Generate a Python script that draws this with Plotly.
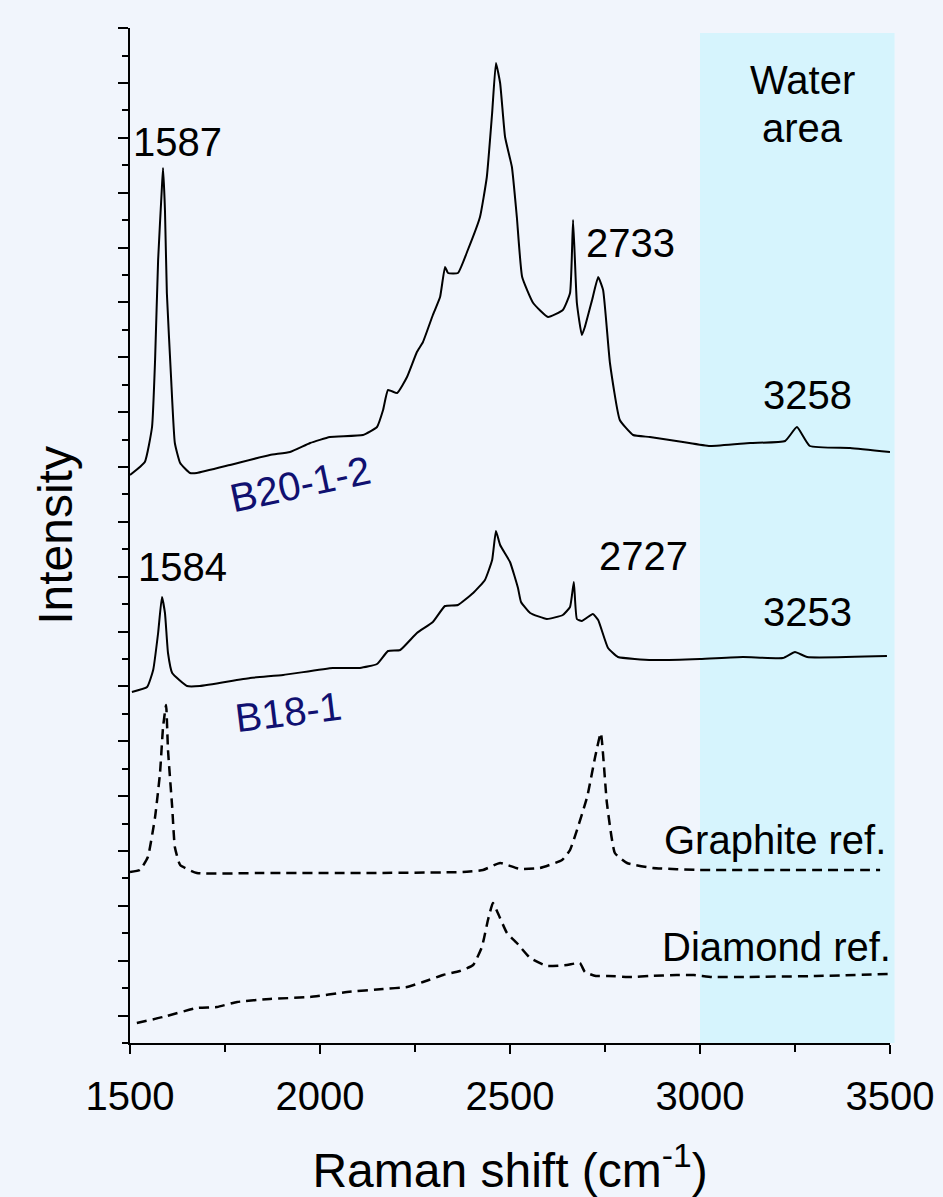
import plotly.graph_objects as go

# ---------------- data (Raman shift in cm-1, intensity in arbitrary offset units) -------------
shift_b20 = [1500, 1539, 1558, 1566, 1574, 1584, 1587, 1592, 1597, 1608, 1618, 1632, 1658, 1676,
             1763, 1868, 1921, 1974, 2026, 2113, 2150, 2166, 2179, 2203, 2229, 2255, 2271, 2297,
             2316, 2329, 2337, 2363, 2389, 2421, 2439, 2453, 2463, 2474, 2487, 2505, 2518, 2532,
             2561, 2600, 2639, 2658, 2666, 2676, 2689, 2697, 2716, 2732, 2745, 2763, 2789, 2824,
             2868, 2955, 3026, 3132, 3224, 3255, 3289, 3395, 3500]
int_b20 = [568, 581, 616, 683, 783, 856, 875, 833, 750, 666, 600, 580, 570, 570,
           578, 588, 591, 600, 606, 608, 616, 633, 653, 650, 666, 691, 701, 728,
           746, 776, 770, 770, 793, 826, 866, 930, 980, 960, 906, 876, 826, 766,
           740, 726, 733, 750, 823, 740, 708, 716, 743, 766, 753, 680, 623, 608,
           606, 601, 597, 600, 602, 616, 597, 595, 591]

shift_b18 = [1505, 1545, 1561, 1574, 1584, 1592, 1600, 1611, 1650, 1684, 1816, 1903, 2034, 2105,
             2150, 2179, 2211, 2255, 2297, 2329, 2363, 2403, 2434, 2453, 2463, 2474, 2500, 2521,
             2529, 2553, 2597, 2639, 2658, 2668, 2676, 2689, 2718, 2732, 2758, 2784, 2876, 3000,
             3113, 3218, 3250, 3282, 3492]
int_b18 = [351, 356, 373, 410, 446, 430, 390, 370, 357, 357, 365, 368, 375, 375,
           379, 392, 393, 410, 421, 437, 438, 450, 463, 483, 512, 498, 481, 455,
           441, 430, 424, 428, 436, 461, 424, 422, 429, 423, 395, 386, 383, 384,
           386, 385, 391, 386, 387]

shift_graphite = [1500, 1526, 1547, 1566, 1579, 1587, 1595, 1600, 1611, 1618, 1632, 1676, 1850,
                  2113, 2376, 2429, 2474, 2526, 2579, 2637, 2658, 2703, 2724, 2739, 2755, 2776,
                  2808, 2876, 3000, 3211, 3474]
int_graphite = [171, 173, 186, 226, 270, 316, 338, 293, 236, 196, 178, 170, 170,
                170, 171, 173, 180, 174, 175, 183, 193, 246, 286, 310, 240, 190,
                180, 175, 173, 173, 173]

shift_diamond = [1518, 1587, 1676, 1729, 1782, 1868, 1974, 2071, 2166, 2229, 2271, 2324, 2368,
                 2403, 2426, 2442, 2455, 2468, 2492, 2518, 2553, 2597, 2650, 2684, 2697, 2726,
                 2758, 2821, 2866, 2939, 2984, 3032, 3121, 3305, 3500]
int_diamond = [20, 26, 35, 36, 41, 44, 46, 51, 54, 56, 61, 68, 72,
               78, 96, 123, 140, 130, 110, 100, 85, 77, 78, 80, 71, 67,
               67, 66, 67, 68, 68, 66, 66, 67, 69]

x_ticks = [1500, 2000, 2500, 3000, 3500]
x_tick_labels = ["1500", "2000", "2500", "3000", "3500"]

# peak labels: (text, x, y)
peak_labels = [("1587", 1626, 901), ("2733", 2816, 800), ("3258", 3282, 648),
               ("1584", 1639, 476), ("2727", 2850, 487), ("3253", 3282, 431)]

BG = "#F1F5FC"
WATER = "#D6F4FD"
NAVY = "#101070"
FONT = "Liberation Sans, Arial, sans-serif"

fig = go.Figure()

# water area band
fig.add_shape(type="rect", xref="paper", yref="paper",
              x0=(3000 - 1500) / 2000, x1=(3512 - 1500) / 2000, y0=0, y1=1010 / 1015,
              fillcolor=WATER, line_width=0, layer="below")

solid = dict(color="black", width=2)
dashed = dict(color="black", width=2.5, dash="10px,6px")
fig.add_trace(go.Scatter(x=shift_b20, y=int_b20, mode="lines", name="B20-1-2",
                         line=dict(**solid, shape="spline", smoothing=0.4)))
fig.add_trace(go.Scatter(x=shift_b18, y=int_b18, mode="lines", name="B18-1",
                         line=dict(**solid, shape="spline", smoothing=0.4)))
fig.add_trace(go.Scatter(x=shift_graphite, y=int_graphite, mode="lines", name="Graphite ref.",
                         line=dict(**dashed, shape="spline", smoothing=0.4)))
fig.add_trace(go.Scatter(x=shift_diamond, y=int_diamond, mode="lines", name="Diamond ref.",
                         line=dict(**dashed, shape="spline", smoothing=0.4)))

for txt, x, y in peak_labels:
    fig.add_annotation(x=x, y=y, text=txt, showarrow=False,
                       font=dict(size=40, color="black", family=FONT))

fig.add_annotation(x=3271, y=963, text="Water", showarrow=False,
                   font=dict(size=40, color="black", family=FONT))
fig.add_annotation(x=3271, y=915, text="area", showarrow=False,
                   font=dict(size=40, color="black", family=FONT))
fig.add_annotation(x=3495, y=203, text="Graphite ref.", showarrow=False, xanchor="right",
                   font=dict(size=40, color="black", family=FONT))
fig.add_annotation(x=3500, y=96, xshift=3, text="Diamond ref.", showarrow=False, xanchor="right",
                   font=dict(size=40, color="black", family=FONT))
fig.add_annotation(x=1947, y=559, text="B20-1-2", showarrow=False, textangle=-12,
                   font=dict(size=40, color=NAVY, family=FONT))
fig.add_annotation(x=1916, y=331, text="B18-1", showarrow=False, textangle=-7,
                   font=dict(size=40, color=NAVY, family=FONT))

fig.update_layout(
    width=943, height=1197,
    margin=dict(l=130, r=53, t=28, b=154),
    paper_bgcolor=BG, plot_bgcolor=BG,
    showlegend=False,
    font=dict(family=FONT, color="black"),
    xaxis=dict(range=[1500, 3500], showgrid=False, zeroline=False, automargin=False,
               showline=True, linecolor="black", linewidth=2,
               ticks="outside", tickvals=x_ticks, ticktext=x_tick_labels,
               ticklen=9, tickwidth=1.5, tickcolor="black",
               minor=dict(dtick=250, tick0=1500, ticks="outside", ticklen=7,
                          tickwidth=1.5, tickcolor="black", showgrid=False),
               tickfont=dict(size=40, family=FONT, color="black"),
               ticklabelstandoff=8,
               title=dict(text="Raman shift (cm<sup>-1</sup>)",
                          font=dict(size=48, family=FONT, color="black"), standoff=50)),
    yaxis=dict(range=[0, 1015], showgrid=False, zeroline=False, automargin=False,
               showline=True, linecolor="black", linewidth=2,
               ticks="outside", tick0=27.43, dtick=54.86, ticklen=10,
               tickwidth=1.5, tickcolor="black", showticklabels=False,
               minor=dict(tick0=0, dtick=27.43, ticks="outside", ticklen=6,
                          tickwidth=1.5, tickcolor="black", showgrid=False),
               title=dict(text="Intensity",
                          font=dict(size=48, family=FONT, color="black"), standoff=30)),
)

fig.write_html(
    "out.html",
    config={"displayModeBar": False},
    post_script="document.body.style.margin='0px';"
                "document.body.style.background='" + BG + "';"
                "document.body.style.overflow='hidden';",
)
